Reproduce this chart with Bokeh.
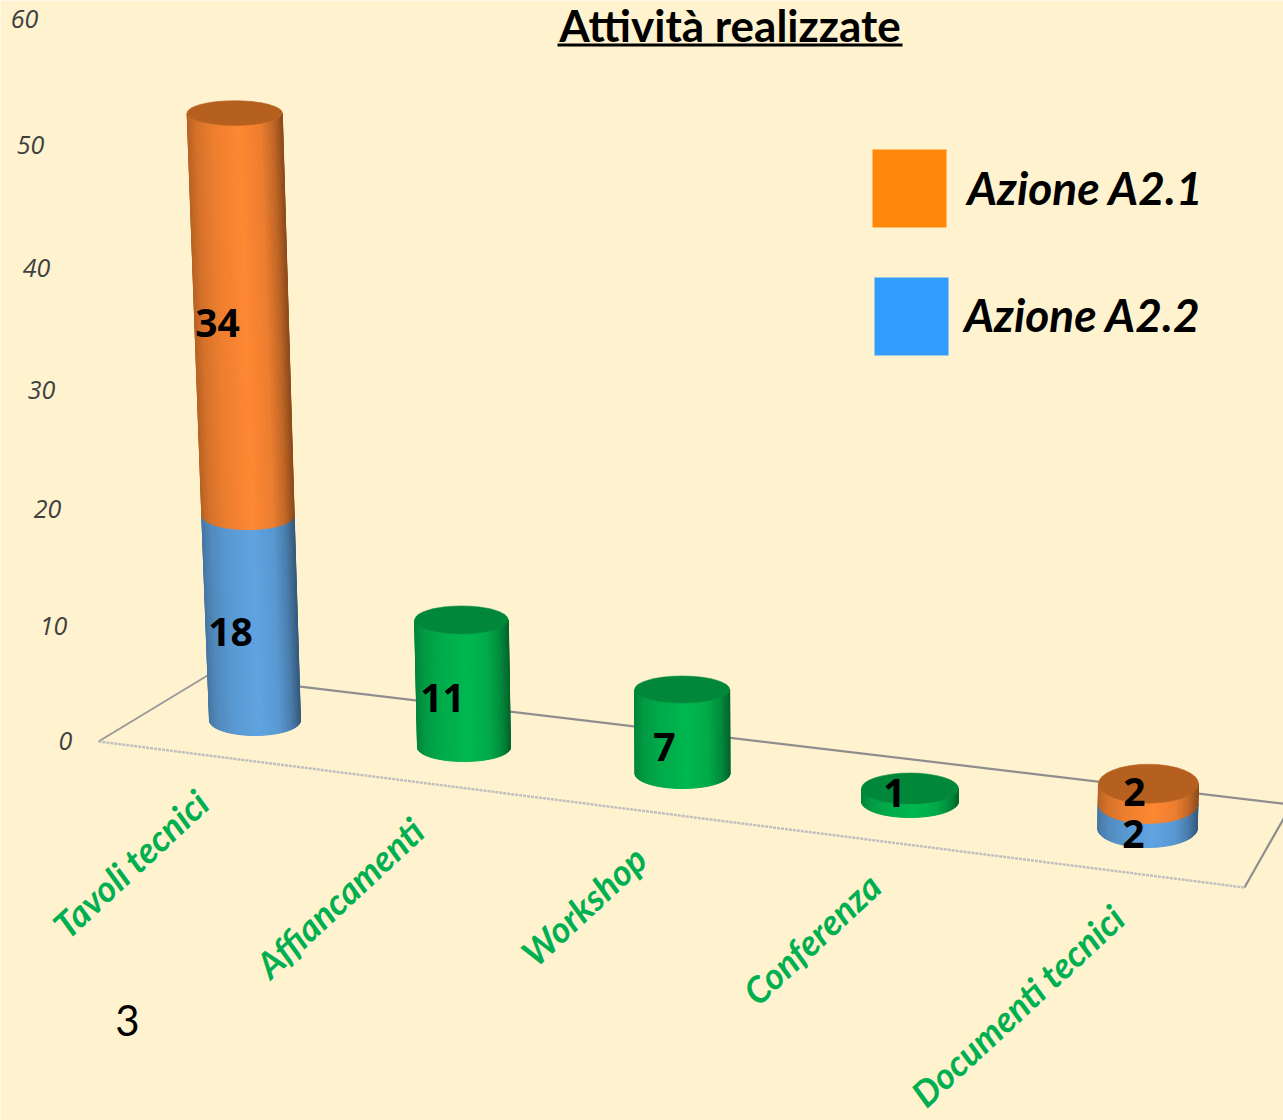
import math
from bokeh.plotting import figure
from bokeh.models import ColumnDataSource, Range1d
from bokeh.core.properties import value
from bokeh.embed import file_html
from bokeh.resources import INLINE

# ---- data ----
categories = ["Tavoli tecnici", "Affiancamenti", "Workshop", "Conferenza", "Documenti tecnici"]
azione_a22 = [18, 0, 0, 0, 2]
azione_a21 = [34, 0, 0, 0, 2]
totale_singolo = [0, 11, 7, 1, 0]
y_ticks = [0, 10, 20, 30, 40, 50, 60]
legend_labels = ["Azione A2.1", "Azione A2.2"]
title_text = "Attività realizzate"
page_number = "3"

# ---- perspective layout (screen pixels of the reference) ----
base_x = [254.5, 463.5, 682.0, 909.5, 1147.0]
base_y = [720.0, 747.0, 773.0, 801.0, 828.0]
rx0 = [45.5, 46.5, 47.5, 48.5, 49.8]
rx_g = [0.04, 0.03, 0.0, 0.0, 0.05]
ry0 = [15.0, 14.0, 15.0, 16.0, 19.0]
ry_g = [-0.05, 0.0, -0.21, -0.5, 0.12]
k0 = [11.24, 11.6, 12.0, 13.0, 13.3]
k1 = [0.0085, 0.0, 0.0, 0.0, -0.525]
lean = [-0.39, -0.23, -0.05, 0.0, 0.25]

BG = "#FFF2CF"
PALETTE = {
    "orange": dict(side=(255, 136, 51), top="#B5601F"),
    "blue": dict(side=(96, 164, 226), top="#4F8BC5"),
    "green": dict(side=(0, 184, 80), top="#00873A"),
}
# shade factor along the visible face: u in -1..1
SHADE = [(-1.0, 0.72), (-0.8, 0.84), (-0.45, 0.93), (0.12, 1.0), (0.55, 0.93), (0.82, 0.76), (1.0, 0.56)]


def shade(u):
    for (a, fa), (b, fb) in zip(SHADE, SHADE[1:]):
        if a <= u <= b:
            return fa + (fb - fa) * (u - a) / (b - a)
    return 1.0


def geom(i, v):
    return (base_x[i] + lean[i] * v,
            base_y[i] - v * (k0[i] + k1[i] * v),
            rx0[i] + rx_g[i] * v,
            ry0[i] + ry_g[i] * v)


p = figure(width=1283, height=1120, output_backend="svg", toolbar_location=None,
           x_range=Range1d(0, 1283), y_range=Range1d(1120, 0),
           background_fill_color=BG, border_fill_color=BG, min_border=0, outline_line_color=None)
p.axis.visible = False
p.grid.visible = False

# ---- floor ----
p.line([98, 207], [741, 675], line_color="#9a9a9a", line_width=2)
p.line([207, 1290], [675, 804], line_color="#8e8e8e", line_width=2.2)
p.line([1244, 1290], [887, 806], line_color="#8e8e8e", line_width=2.2)
p.line([98, 1244], [741, 887], line_color="#bfbfbf", line_width=2.4, line_dash="3 1")

# ---- cylinders ----
N = 40


def cylinder(i, v0, v1, key, cap=True):
    if v1 <= v0:
        return
    cx0, cy0, rx_0, ry_0 = geom(i, v0)
    cx1, cy1, rx_1, ry_1 = geom(i, v1)
    xs, ys, cols = [], [], []
    base = PALETTE[key]["side"]
    for s in range(N):
        t0, t1 = math.pi * s / N, math.pi * (s + 1) / N
        c0, c1 = -math.cos(t0), -math.cos(t1)
        s0, s1 = math.sin(t0), math.sin(t1)
        xs.append([cx0 + rx_0 * c0, cx0 + rx_0 * c1, cx1 + rx_1 * c1, cx1 + rx_1 * c0])
        ys.append([cy0 + ry_0 * s0, cy0 + ry_0 * s1, cy1 + ry_1 * s1, cy1 + ry_1 * s0])
        f = shade((c0 + c1) / 2)
        cols.append("#%02x%02x%02x" % tuple(int(min(255, b * f)) for b in base))
    p.patches(xs="xs", ys="ys", fill_color="cols", line_color="cols", line_width=1.0,
              source=ColumnDataSource(dict(xs=xs, ys=ys, cols=cols)))
    if cap:
        p.ellipse(x=[cx1], y=[cy1], width=[2 * rx_1], height=[2 * ry_1],
                  fill_color=PALETTE[key]["top"], line_color=PALETTE[key]["top"], line_width=0.5)


for i in range(len(categories)):
    if totale_singolo[i] > 0:
        cylinder(i, 0, totale_singolo[i], "green")
    else:
        cylinder(i, 0, azione_a22[i], "blue", cap=False)
        cylinder(i, azione_a22[i], azione_a22[i] + azione_a21[i], "orange")

# ---- value labels ----
label_x = [217, 230, 442, 664, 894, 1134, 1133]
label_y = [322, 631, 697, 746, 792, 791, 833]
label_vals = [azione_a21[0], azione_a22[0], totale_singolo[1], totale_singolo[2], totale_singolo[3],
              azione_a21[4], azione_a22[4]]
p.text(x=label_x, y=label_y, text=[str(v) for v in label_vals], text_font=value("Open Sans"),
       text_font_style="bold", text_font_size="39px", text_color="#000000",
       text_align="center", text_baseline="middle")

# ---- value axis ticks ----
tick_x = [65, 53, 47, 41, 36, 30, 24]
tick_y = [740 - t * (11.37 + 0.011 * t) for t in y_ticks]
p.text(x=tick_x, y=tick_y, text=[str(t) for t in y_ticks], text_font=value("Open Sans"),
       text_font_style="italic", text_font_size="25px", text_color="#404040",
       text_align="center", text_baseline="middle")

# ---- category labels ----
cat_x = [130, 339, 583, 811, 1017]
cat_y = [863, 897, 905, 938, 1005]
p.text(x=cat_x, y=cat_y, text=categories, angle=math.radians(43), text_font=value("Lato"),
       text_font_style="bold italic", text_font_size="36px", text_color="#00B050",
       text_align="center", text_baseline="middle")

# ---- legend ----
p.quad(left=[872], right=[946], top=[149], bottom=[227], fill_color="#FF8709", line_color=None)
p.quad(left=[874], right=[948], top=[277], bottom=[355], fill_color="#339CFF", line_color=None)
p.text(x=[1085, 1082], y=[187, 314], text=legend_labels, text_font=value("Lato"),
       text_font_style="bold italic", text_font_size="46px", text_color="#000000",
       text_align="center", text_baseline="middle")

# ---- title and page number ----
p.text(x=[729.5], y=[24], text=[title_text], text_font=value("Lato"), text_font_style="bold",
       text_font_size="44px", text_color="#000000", text_align="center", text_baseline="middle")
p.line([557, 902], [44.5, 44.5], line_color="#000000", line_width=3)
p.text(x=[127], y=[1020], text=[page_number], text_font=value("Lato"), text_font_size="42px",
       text_color="#000000", text_align="center", text_baseline="middle")

open("out.html", "w").write(file_html(p, INLINE))
